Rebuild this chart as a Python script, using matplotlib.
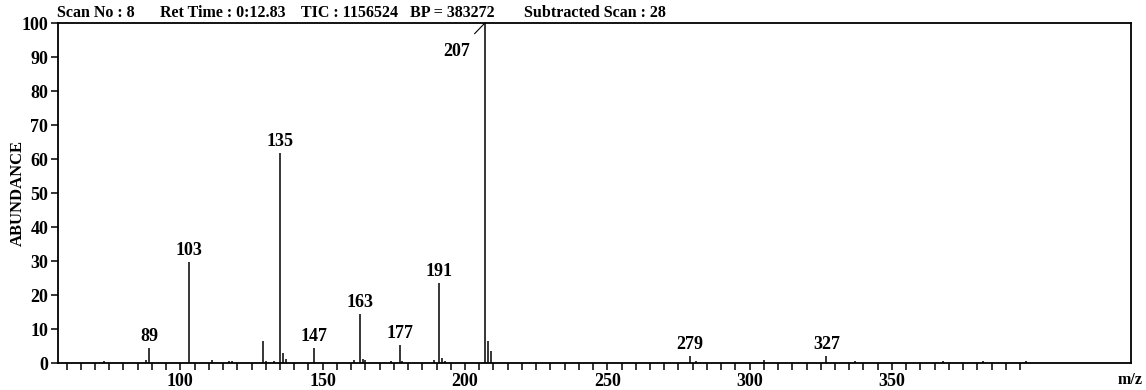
import matplotlib
matplotlib.use("Agg")
from matplotlib import pyplot as plt

# peaks: m/z and relative abundance (%)
mz = [73, 88, 89, 103, 111, 117, 118, 129, 130, 133, 135, 136, 137, 147,
      161, 163, 164, 165, 174, 177, 178, 189, 191, 192, 193, 207, 208, 209,
      279, 281, 305, 327, 337, 368, 382, 397]
abundance = [0.5, 1.0, 4.4, 29.7, 1.0, 0.5, 0.5, 6.4, 0.6, 0.6, 61.8, 2.9, 1.2, 4.4,
             1.0, 14.4, 1.2, 1.0, 0.5, 5.3, 0.5, 1.0, 23.6, 1.5, 0.5, 100, 6.4, 3.6,
             2.1, 0.6, 0.8, 2.2, 0.5, 0.5, 0.5, 0.5]
labelled = [89, 103, 135, 147, 163, 177, 191, 279, 327]

header = ["Scan No : 8", "Ret Time : 0:12.83", "TIC : 1156524", "BP = 383272",
          "Subtracted Scan : 28"]
header_x = [57, 160, 301, 410, 524]

font = "Liberation Serif"
plt.rcParams["font.family"] = [font, "DejaVu Serif"]
plt.rcParams["font.weight"] = "bold"

W, H = 1146, 390
fig = plt.figure(figsize=(W / 100, H / 100), dpi=100)
ax = fig.add_axes([58 / W, 1 - 363 / H, (1131 - 58) / W, (363 - 23) / H])

ax.vlines(mz, 0, abundance, color="black", linewidth=1.1)

for m, a in zip(mz, abundance):
    if m in labelled:
        ax.annotate(str(m), (m, a), xytext=(0, 3), textcoords="offset pixels",
                    ha="center", va="bottom", fontsize=13, fontweight="bold")

# base peak label with leader line
bp = abundance.index(max(abundance))
ax.annotate(str(mz[bp]), (mz[bp], abundance[bp]), xytext=(-28, -29),
            textcoords="offset pixels", ha="center", va="center",
            fontsize=13, fontweight="bold",
            arrowprops=dict(arrowstyle="-", color="black", lw=0.8,
                            shrinkA=7, shrinkB=0))

ax.set_xlim(57, 434)
ax.set_ylim(0, 100)
xt = list(range(60, 400, 5))
ax.set_xticks(xt)
ax.set_xticklabels([str(t) if t % 50 == 0 else "" for t in xt])
ax.set_yticks(range(0, 101, 10))
ax.tick_params(direction="out", length=5, width=1.1, labelsize=13, pad=2)
for lab in ax.get_xticklabels() + ax.get_yticklabels():
    lab.set_fontweight("bold")
for s in ax.spines.values():
    s.set_linewidth(1.3)

fig.text(18 / W, 1 - 193 / H, "ABUNDANCE", fontsize=12, fontweight="bold",
         rotation=90, ha="center", va="center")

for t, x in zip(header, header_x):
    fig.text(x / W, 1 - 13 / H, t, fontsize=11.5, fontweight="bold",
             ha="left", va="center")
fig.text(1143 / W, 1 - 380 / H, "m/z", fontsize=11.5, fontweight="bold",
         ha="right", va="center")

fig.savefig("out.png", dpi=100, facecolor="white")
